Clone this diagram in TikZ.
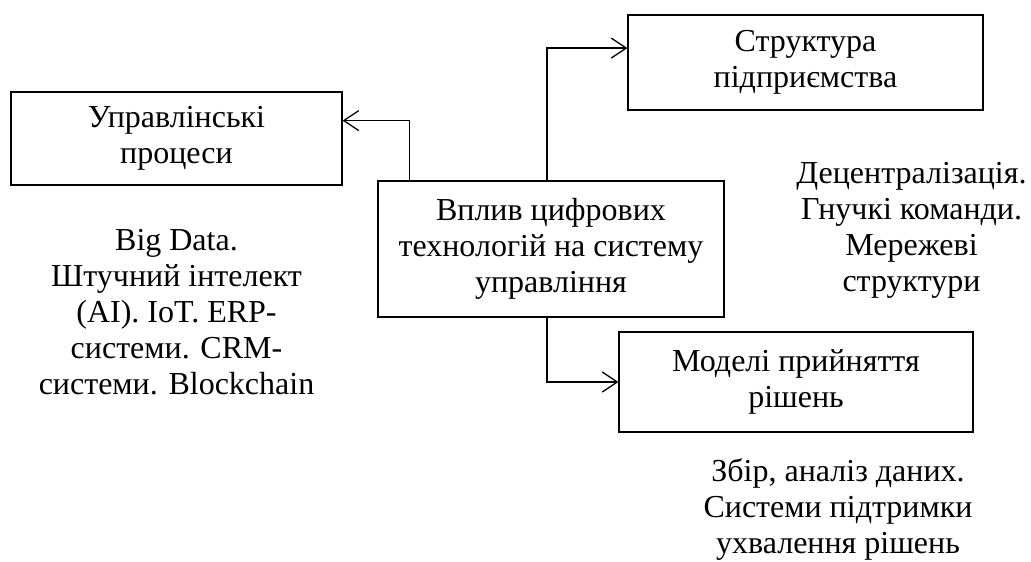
\documentclass[tikz,border=0pt]{standalone}
\usepackage{fontspec}
\setmainfont{Liberation Serif}
\usetikzlibrary{calc}
\usetikzlibrary{positioning}
\usetikzlibrary{arrows.meta}
\tikzstyle{blockbox} = [draw, rectangle, line width=0.6pt, align=center, inner sep=0pt]
\tikzstyle{notetext} = [align=center, inner sep=0pt]
\tikzstyle{link} = [line width=0.65pt, -{Straight Barb[length=7.5pt,width=10pt,line width=0.65pt]}]

\begin{document}
\begin{tikzpicture}[x=0.5pt,y=-0.5pt,font=\fontsize{16}{18}\selectfont]
\useasboundingbox (0,0) rectangle (1031,561);
\node[blockbox, minimum width=165.5pt, minimum height=46.5pt] (upr) at (176.5,138.5) {Управлінські\\процеси};
\node[blockbox, minimum width=173pt, minimum height=68pt] (vplyv) at (551,249) {Вплив цифрових\\технологій на систему\\управління};
\node[blockbox, minimum width=177.5pt, minimum height=47.5pt] (struct) at (805.5,62.5) {Структура\\підприємства};
\node[blockbox, minimum width=177pt, minimum height=50pt] (model) at (796,382) {Моделі прийняття\\рішень};
\node[notetext] (tech) at ($(upr)+(0,174)$) {Big Data.\\Штучний інтелект\\(AI). IoT. ERP-\\системи. CRM-\\системи. Blockchain};
\node[notetext] (decent) at ($(struct)+(106,168)$) {Децентралізація.\\Гнучкі команди.\\Мережеві\\структури};
\node[notetext] (zbir) at ($(model)+(42,127)$) {Збір, аналіз даних.\\Системи підтримки\\ухвалення рішень};
\draw[link] ($(vplyv.north west)!0.093!(vplyv.north east)$) |- ($(upr.north east)!0.31!(upr.south east)$);
\draw[link] ($(vplyv.north)+(-4,0)$) |- ($(struct.north west)!0.35!(struct.south west)$);
\draw[link] ($(vplyv.south)+(-4,0)$) |- (model.west);
\end{tikzpicture}
\end{document}
